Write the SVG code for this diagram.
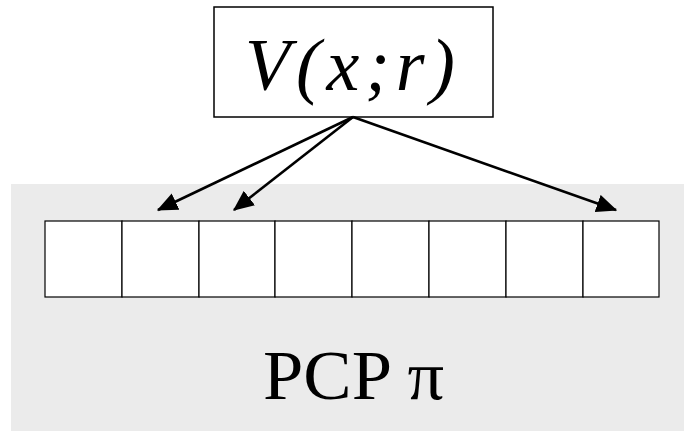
<svg xmlns="http://www.w3.org/2000/svg" width="684" height="431" viewBox="0 0 684 431">
<style>
.cell{fill:#fff;stroke:#000;stroke-width:1.2}
.conn{stroke:#000;stroke-width:2.6;fill:none;marker-end:url(#ah)}
text{font-family:"Liberation Serif","DejaVu Serif",serif;fill:#000}
</style>
<defs>
<marker id="ah" markerWidth="8" markerHeight="7" refX="7.5" refY="3.5" orient="auto" markerUnits="strokeWidth">
<path d="M0,0 L8,3.5 L0,7 z" fill="#000"/>
</marker>
</defs>
<rect x="0" y="0" width="684" height="431" fill="#fff"/>
<g id="pcp">
<rect x="11" y="184" width="673" height="247" fill="#ebebeb"/>
<rect class="cell" x="45" y="221" width="77" height="76"/>
<rect class="cell" x="122" y="221" width="77" height="76"/>
<rect class="cell" x="199" y="221" width="76" height="76"/>
<rect class="cell" x="275" y="221" width="77" height="76"/>
<rect class="cell" x="352" y="221" width="77" height="76"/>
<rect class="cell" x="429" y="221" width="77" height="76"/>
<rect class="cell" x="506" y="221" width="77" height="76"/>
<rect class="cell" x="583" y="221" width="76" height="76"/>
<text x="263" y="399" font-size="70" textLength="181" lengthAdjust="spacingAndGlyphs">PCP π</text>
</g>
<g id="v">
<rect x="214" y="7" width="279" height="110" fill="#fff" stroke="#000" stroke-width="1.5"/>
<text x="245" y="90" font-size="74" font-style="italic" textLength="210" lengthAdjust="spacing">V(x;r)</text>
</g>
<g id="connectors">
<line class="conn" x1="353" y1="117" x2="158" y2="210"/>
<line class="conn" x1="353" y1="117" x2="234" y2="210"/>
<line class="conn" x1="353" y1="117" x2="616" y2="210"/>
</g>
</svg>
